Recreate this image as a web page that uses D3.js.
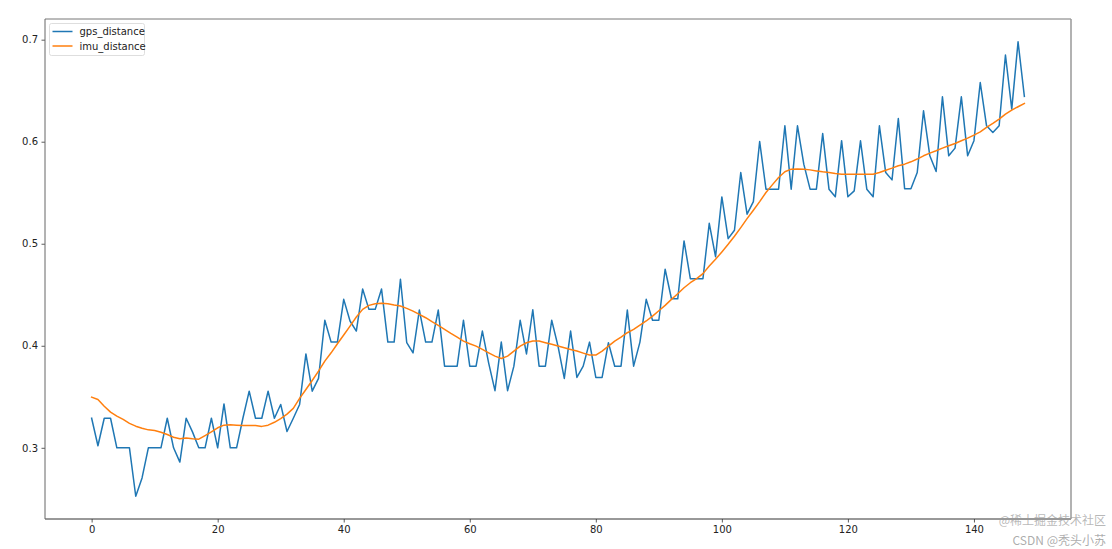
<!DOCTYPE html>
<html><head><meta charset="utf-8">
<script src="https://cdn.jsdelivr.net/npm/d3@7"></script>
<style>body{margin:0;background:#fff;}svg{display:block;}</style>
</head><body>
<svg id="chart" width="1112" height="549"></svg>
<script>
const seriesNames = ["gps_distance", "imu_distance"];
const seriesColors = ["#1f77b4", "#ff7f0e"];
const gps = [
0.329,0.302,0.329,0.329,0.300,0.300,0.300,0.2525,0.2705,0.300,
0.300,0.300,0.329,0.300,0.286,0.329,0.3156,0.300,0.300,0.329,
0.300,0.343,0.300,0.300,0.329,0.3555,0.329,0.329,0.3555,0.329,
0.3425,0.316,0.329,0.3425,0.392,0.3555,0.368,0.425,0.4036,0.4036,
0.4455,0.4243,0.4144,0.4556,0.4357,0.4357,0.4556,0.4036,0.4036,0.4652,
0.403,0.393,0.435,0.4036,0.4036,0.435,0.380,0.380,0.380,0.425,
0.380,0.380,0.4144,0.383,0.356,0.4036,0.356,0.380,0.425,0.392,
0.4353,0.380,0.380,0.425,0.3997,0.368,0.4144,0.369,0.380,0.4036,
0.369,0.369,0.403,0.380,0.380,0.435,0.380,0.4036,0.4455,0.425,
0.425,0.475,0.4461,0.446,0.5028,0.4658,0.4658,0.4658,0.520,0.4873,
0.5459,0.505,0.5132,0.5698,0.529,0.5413,0.6002,0.5535,0.5535,0.5535,
0.6156,0.5535,0.6156,0.578,0.5535,0.5535,0.608,0.5535,0.546,0.601,
0.546,0.5518,0.6009,0.5535,0.546,0.6156,0.5698,0.5626,0.6228,0.554,
0.554,0.5698,0.6303,0.5862,0.5708,0.644,0.5862,0.5937,0.644,0.5862,
0.601,0.658,0.6156,0.609,0.6156,0.685,0.632,0.698,0.6444
];
const imu = [
0.3497,0.3474,0.3408,0.335,0.331,0.3278,0.324,0.3212,0.3192,0.3176,
0.317,0.3153,0.313,0.3104,0.3088,0.3097,0.3088,0.3085,0.312,0.3156,
0.3196,0.3222,0.3225,0.3222,0.3218,0.3218,0.3218,0.321,0.3222,0.325,
0.3287,0.333,0.3386,0.3484,0.3572,0.366,0.3752,0.385,0.3931,0.402,
0.4105,0.4193,0.4282,0.4357,0.4396,0.4412,0.4416,0.4412,0.440,0.439,
0.4367,0.434,0.4308,0.4275,0.4236,0.420,0.4161,0.4122,0.4085,0.4046,
0.402,0.3997,0.3964,0.3931,0.3899,0.3876,0.3899,0.3948,0.3997,0.403,
0.4046,0.4046,0.403,0.4014,0.3997,0.398,0.3964,0.3948,0.3928,0.3909,
0.3909,0.3948,0.3997,0.4046,0.4085,0.4128,0.4161,0.4203,0.4243,0.4291,
0.4343,0.4396,0.4455,0.451,0.4569,0.4618,0.4658,0.4707,0.4782,0.4848,
0.492,0.4995,0.5074,0.5158,0.5246,0.5329,0.5413,0.5502,0.5577,0.5649,
0.5705,0.5731,0.5732,0.5731,0.5724,0.5714,0.5705,0.5698,0.5688,0.5682,
0.5682,0.5682,0.5682,0.568,0.5682,0.5698,0.5721,0.5741,0.5764,0.578,
0.5803,0.583,0.5862,0.5888,0.5911,0.5937,0.596,0.5982,0.6009,0.6035,
0.6065,0.6097,0.614,0.6179,0.6222,0.6271,0.631,0.6343,0.6375
];
const xTicks = [0, 20, 40, 60, 80, 100, 120, 140];
const yTicks = [0.3, 0.4, 0.5, 0.6, 0.7];
const watermarks = ["@稀土掘金技术社区", "CSDN @秃头小苏"];

const svg = d3.select("#chart");
const L = 45, R = 1071, T = 19, B = 519;
const n = gps.length;
const xPad = (n - 1) * 0.05;
const x = d3.scaleLinear().domain([-xPad, n - 1 + xPad]).range([L, R]);
const allV = gps.concat(imu);
const ymin = d3.min(allV), ymax = d3.max(allV), yPad = (ymax - ymin) * 0.05;
const y = d3.scaleLinear().domain([ymin - yPad, ymax + yPad]).range([B, T]);

const font = "DejaVu Sans, sans-serif";
const line = d3.line().x((d, i) => x(i)).y(d => y(d));
[gps, imu].forEach((s, k) => {
  svg.append("path").datum(s).attr("d", line)
    .attr("fill", "none").attr("stroke", seriesColors[k])
    .attr("stroke-width", 1.5).attr("stroke-linejoin", "round").attr("stroke-linecap", "square");
});

const xAxis = svg.append("g").attr("transform", `translate(0,${B})`)
  .call(d3.axisBottom(x).tickValues(xTicks).tickFormat(d3.format("d")).tickSize(3.5).tickSizeOuter(0));
const yAxis = svg.append("g").attr("transform", `translate(${L},0)`)
  .call(d3.axisLeft(y).tickValues(yTicks).tickFormat(d3.format(".1f")).tickSize(3.5).tickSizeOuter(0));
[xAxis, yAxis].forEach(g => {
  g.select(".domain").remove();
  g.selectAll(".tick line").attr("stroke", "#333").attr("stroke-width", 0.8);
  g.selectAll(".tick text").attr("font-family", font).attr("font-size", 10).attr("fill", "#222");
});
xAxis.selectAll(".tick text").attr("dy", "0.71em").attr("y", 6.5);
yAxis.selectAll(".tick text").attr("x", -7);

// spines
svg.append("line").attr("x1", L).attr("x2", R).attr("y1", T).attr("y2", T).attr("stroke", "#777").attr("stroke-width", 1);
svg.append("line").attr("x1", L).attr("x2", R).attr("y1", B).attr("y2", B).attr("stroke", "#333").attr("stroke-width", 1);
svg.append("line").attr("x1", L).attr("x2", L).attr("y1", T).attr("y2", B).attr("stroke", "#666").attr("stroke-width", 1);
svg.append("line").attr("x1", R).attr("x2", R).attr("y1", T).attr("y2", B).attr("stroke", "#999").attr("stroke-width", 1.5);

// legend
const lg = svg.append("g").attr("transform", "translate(49.5,23.5)");
lg.append("rect").attr("width", 95).attr("height", 32).attr("rx", 2)
  .attr("fill", "#fff").attr("fill-opacity", 0.8).attr("stroke", "#d5d5d5").attr("stroke-width", 0.8);
seriesNames.forEach((nm, k) => {
  const yy = 8 + k * 14.5;
  lg.append("line").attr("x1", 3).attr("x2", 23).attr("y1", yy).attr("y2", yy)
    .attr("stroke", seriesColors[k]).attr("stroke-width", 1.5);
  lg.append("text").attr("x", 30).attr("y", yy).attr("dy", "0.35em")
    .attr("font-family", font).attr("font-size", 10).attr("fill", "#222").text(nm);
});

// watermarks (kept clear of the tick labels and of each other)
svg.append("text").attr("x", 1106).attr("y", 525).attr("text-anchor", "end")
  .attr("font-family", "Noto Sans CJK SC, sans-serif").attr("font-size", 12)
  .attr("fill", "#999").attr("fill-opacity", 0.7).text(watermarks[0]);
svg.append("text").attr("x", 1106).attr("y", 545).attr("text-anchor", "end")
  .attr("font-family", "Noto Sans CJK SC, sans-serif").attr("font-size", 12)
  .attr("fill", "#888").attr("fill-opacity", 0.7).text(watermarks[1]);
</script>
</body></html>
